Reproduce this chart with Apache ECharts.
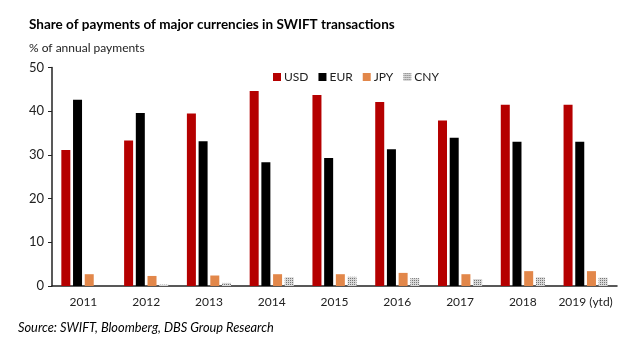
<!DOCTYPE html>
<html>
<head>
<meta charset="utf-8">
<script src="https://cdn.jsdelivr.net/npm/echarts@6/dist/echarts.min.js"></script>
<style>html,body{margin:0;padding:0;background:#fff;}#c{width:633px;height:343px;}</style>
</head>
<body>
<div id="c"></div>
<script>
const categories = ['2011','2012','2013','2014','2015','2016','2017','2018','2019 (ytd)'];
const usd = [31.1, 33.3, 39.5, 44.6, 43.7, 42.1, 37.9, 41.5, 41.5];
const eur = [42.6, 39.6, 33.1, 28.3, 29.3, 31.3, 33.9, 33.0, 33.0];
const jpy = [2.7, 2.3, 2.4, 2.7, 2.7, 3.0, 2.7, 3.4, 3.4];
const cny = [0.0, 0.3, 0.7, 2.0, 2.1, 1.8, 1.6, 2.0, 1.9];
const yTicks = [0, 10, 20, 30, 40, 50];

const FONT = 'Lato';
const chart = echarts.init(document.getElementById('c'));
const barStyle = (name, data, color, extra) => ({
  name, type: 'bar', data, barWidth: 9, barGap: '30%',
  itemStyle: Object.assign({ color }, extra || {})
});
chart.setOption({
  animation: false,
  backgroundColor: '#fff',
  textStyle: { fontFamily: FONT },
  title: [
    { text: 'Share of payments of major currencies in SWIFT transactions', left: 24, top: 13,
      textStyle: { fontFamily: FONT, fontSize: 13.5, fontWeight: 'bold', color: '#000' } },
    { text: '% of annual payments', left: 24, top: 37,
      textStyle: { fontFamily: FONT, fontSize: 12, fontWeight: 'normal', color: '#222' } },
    { text: 'Source: SWIFT, Bloomberg, DBS Group Research', left: 13, top: 316,
      textStyle: { fontFamily: FONT, fontSize: 12.8, fontWeight: 'normal', fontStyle: 'italic', color: '#000' } }
  ],
  legend: {
    left: 268, top: 66, itemWidth: 8, itemHeight: 8, itemGap: 10,
    icon: 'rect',
    textStyle: { fontFamily: FONT, fontSize: 12, color: '#222', padding: [0, 0, 0, -2] },
    data: ['USD', 'EUR', 'JPY', 'CNY']
  },
  grid: { left: 52, right: 16, top: 67.5, bottom: 57, containLabel: false },
  xAxis: {
    type: 'category', data: categories,
    axisLine: { lineStyle: { color: '#222', width: 1.5 } },
    axisTick: { show: false },
    axisLabel: { fontFamily: FONT, fontSize: 12, color: '#222', margin: 10, interval: 0 }
  },
  yAxis: {
    type: 'value', min: yTicks[0], max: yTicks[yTicks.length - 1], interval: 10,
    axisLine: { show: true, lineStyle: { color: '#222', width: 1.5 } },
    axisTick: { show: true, length: 4, lineStyle: { color: '#222' } },
    splitLine: { show: false },
    axisLabel: { fontFamily: FONT, fontSize: 13, color: '#222', margin: 8 }
  },
  series: [
    barStyle('USD', usd, '#B50000'),
    barStyle('EUR', eur, '#000000'),
    barStyle('JPY', jpy, '#E2874A'),
    barStyle('CNY', cny, '#d8d8d8', { decal: { symbol: 'rect', symbolSize: 1, dashArrayX: [[1, 1]], dashArrayY: [1, 1], color: '#777', rotation: 0 } })
  ]
});
</script>
</body>
</html>
